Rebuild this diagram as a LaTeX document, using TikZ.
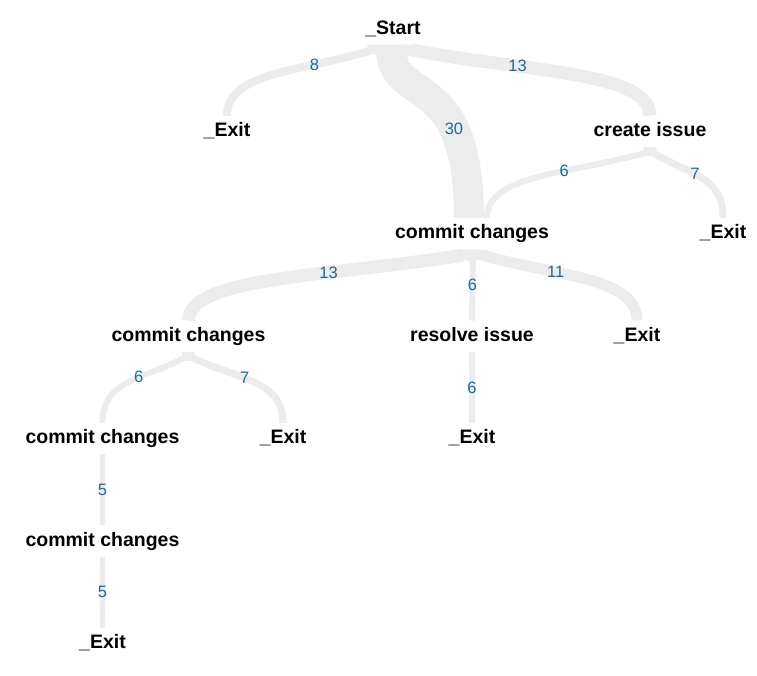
\documentclass[tikz,border=0pt]{standalone}
\usepackage{fontspec}
\setmainfont{Liberation Sans}
\usetikzlibrary{calc}

\definecolor{bandgray}{RGB}{236,236,236}
\definecolor{countblue}{RGB}{26,106,160}

\tikzset{
  activity/.style={font=\bfseries\fontsize{19.5}{20}\selectfont, text height=14pt,
                   text depth=4pt, inner xsep=0pt, inner ysep=6.5pt, anchor=base},
  band/.style={draw=bandgray},
  countlabel/.style={text=countblue, font=\fontsize{16.5}{17}\selectfont, inner sep=0pt}
}

\newcommand{\fork}[2]{
  \pgfmathsetmacro{\forkh}{8+0.12*#2}
  \fill[bandgray] ($(#1.south)+(-0.5*#2,0)$)
    arc[start angle=180, end angle=360, x radius=#2*0.5pt, y radius=\forkh pt] -- cycle;
}

\newcommand{\flow}[7]{
  % end points
  \path (#1.south) ++(#2,0) coordinate (p0);
  \path (#3.north) ++(#4,0) coordinate (p3);

  \ifcase#6
    % side band
    \draw[band, line width=#5pt] ($(p0)+(0,-5.5)$)
      .. controls ($(p0)!0.5!(p0 -| p3)+(0,-27.5)$) and ($(p0 -| p3)+(0,-27.5)$) .. (p3)
      node[countlabel, pos=#7] {#5};
  \or
    % down band
    \draw[band, line width=#5pt] (p0) .. controls +(0,-65) and +(0,155) .. (p3)
      node[countlabel, pos=#7] {#5};
  \or
    % straight band
    \draw[band, line width=#5pt] (p0) -- (p3) node[countlabel, pos=#7] {#5};
  \fi
}

\begin{document}
\begin{tikzpicture}[x=1pt, y=1pt]
\useasboundingbox (0,0) rectangle (757,-675);

\foreach \n/\x/\l/\t in {start/393/0/\_Start, exitA/227/1/\_Exit, create/650/1/create issue,
                         commitA/472/2/commit changes, exitB/723/2/\_Exit,
                         commitB/188.5/3/commit changes, resolve/472/3/resolve issue, exitC/637/3/\_Exit,
                         commitC/102.5/4/commit changes, exitD/283/4/\_Exit, exitE/472/4/\_Exit,
                         commitD/102.5/5/commit changes, exitF/102.5/6/\_Exit}
  \node[activity] (\n) at (\x,{-34-102.4*\l}) {\t};

\fork{start}{51}
\fork{create}{13}
\fork{commitA}{30}
\fork{commitB}{13}

\foreach \s/\ds/\t/\dt/\n/\k/\p in {start/-21.5/exitA/0/8/0/0.27, start/-2.5/commitA/-3/30/1/0.72,
                                     start/19/create/0/13/0/0.305, create/-3.5/commitA/15/6/0/0.36,
                                     create/3/exitB/0/7/0/0.425, commitA/-8.5/commitB/0/13/0/0.34,
                                     commitA/1/resolve/0/6/2/0.5, commitA/9.5/exitC/0/11/0/0.33,
                                     commitB/-3.5/commitC/0/6/0/0.395, commitB/3/exitD/0/7/0/0.41,
                                     resolve/0/exitE/0/6/2/0.5, commitC/0/commitD/0/5/2/0.5,
                                     commitD/0/exitF/0/5/2/0.5}
  {
    \flow{\s}{\ds}{\t}{\dt}{\n}{\k}{\p}
  }
\end{tikzpicture}
\end{document}
